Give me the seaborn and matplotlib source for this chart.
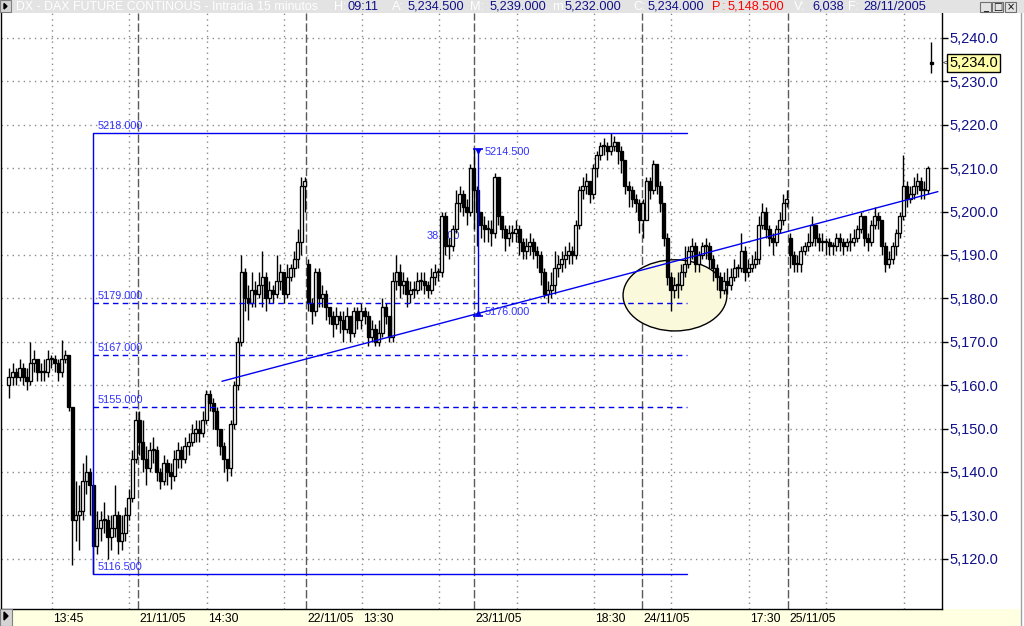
import numpy as np
import matplotlib
matplotlib.use('Agg')
import matplotlib.pyplot as plt
from matplotlib.patches import Ellipse, Rectangle, Polygon
import seaborn as sns

# ---- 15 minute bars, one set of lists per session ----
day_names = ['18/11/05', '21/11/05', '22/11/05', '23/11/05', '24/11/05', '25/11/05', '28/11/05']
first_open = [5160, 5152, 5188, 5205, 5198, 5194, 5234.5]

close_18 = [5162, 5163, 5162, 5164, 5162, 5161, 5165, 5166, 5163, 5163, 5163, 5166, 5166, 5165, 5163, 5166,
            5167, 5155, 5129, 5130, 5131, 5138, 5140, 5137, 5123, 5127, 5129, 5129, 5125, 5127, 5130, 5124,
            5126, 5130, 5134, 5143, 5152]
high_18 = [5164, 5165, 5164, 5166, 5165, 5164, 5170, 5168, 5166, 5165, 5166, 5168, 5167, 5167, 5166, 5170.5,
           5168, 5167, 5155, 5138, 5137, 5142, 5144, 5141, 5137, 5131, 5131, 5133, 5130, 5130, 5137, 5131,
           5130, 5132, 5136, 5145, 5154]
low_18 = [5157, 5160, 5160, 5161, 5160, 5159, 5160, 5163, 5161, 5161, 5161, 5162, 5164, 5163, 5161, 5162,
          5165, 5154, 5118.6, 5124, 5122, 5129, 5135, 5130, 5116.5, 5121, 5124, 5126, 5120, 5122, 5125, 5121,
          5122, 5124, 5129, 5133, 5142]

close_21 = [5147, 5143, 5141, 5145, 5145, 5140, 5138, 5142, 5140, 5139, 5143, 5145, 5143, 5146, 5147, 5149,
            5150, 5149, 5152, 5158, 5156, 5154, 5150, 5146, 5143, 5141, 5151, 5160, 5170, 5186, 5180, 5179,
            5182, 5181, 5183, 5185, 5180, 5182, 5181, 5184, 5186, 5181, 5185, 5187, 5189, 5193, 5206, 5207]
high_21 = [5154, 5152, 5146, 5147, 5148, 5146, 5141, 5144, 5143, 5142, 5145, 5147, 5146, 5148, 5149, 5151,
           5152, 5152, 5154, 5159, 5159, 5157, 5155, 5150, 5147, 5143, 5152, 5161, 5171, 5190, 5187, 5183,
           5186, 5184, 5186, 5191, 5186, 5184, 5183, 5190, 5188, 5186, 5188, 5188, 5191, 5196, 5208, 5208]
low_21 = [5144, 5140, 5137, 5140, 5142, 5138, 5136, 5137, 5137, 5136, 5138, 5141, 5141, 5142, 5144, 5146,
          5147, 5147, 5148, 5151, 5154, 5150, 5146, 5144, 5140, 5138, 5139, 5150, 5159, 5169, 5177, 5175,
          5178, 5178, 5180, 5178, 5177, 5179, 5179, 5180, 5182, 5179, 5180, 5184, 5185, 5187, 5190, 5200]

close_22 = [5179, 5177, 5186, 5180, 5181, 5178, 5176, 5174, 5176, 5175, 5173, 5176, 5172, 5177, 5175, 5177,
            5176, 5171, 5173, 5170, 5172, 5178, 5176, 5171, 5184, 5186, 5183, 5184, 5181, 5182, 5182, 5184,
            5184, 5183, 5182, 5185, 5186, 5186, 5199, 5192, 5192, 5196, 5202, 5204, 5201, 5200, 5210, 5205]
high_22 = [5189, 5180, 5187, 5187, 5183, 5182, 5178, 5177, 5178, 5177, 5177, 5178, 5176, 5178, 5178, 5179,
           5178, 5177, 5175, 5174, 5175, 5180, 5179, 5176, 5186, 5190, 5188, 5186, 5185, 5184, 5184, 5186,
           5186, 5186, 5184, 5187, 5188, 5187, 5200, 5200, 5194, 5197, 5205, 5206, 5205, 5203, 5211, 5214.5]
low_22 = [5177, 5174, 5176, 5178, 5178, 5175, 5174, 5171, 5173, 5172, 5170, 5172, 5170, 5171, 5173, 5173,
          5174, 5169, 5170, 5169, 5169, 5171, 5174, 5170, 5170, 5182, 5180, 5181, 5178, 5179, 5180, 5181,
          5182, 5181, 5180, 5181, 5183, 5184, 5185, 5190, 5189, 5191, 5195, 5200, 5199, 5197, 5199, 5196]

close_23 = [5200, 5197, 5196, 5196, 5195, 5208, 5199, 5196, 5194, 5195, 5195, 5196, 5193, 5191, 5192, 5193,
            5191, 5190, 5186, 5181, 5182, 5183, 5187, 5188, 5189, 5190, 5191, 5190, 5197, 5205, 5206, 5207,
            5204, 5210, 5213, 5215, 5215, 5214, 5215, 5216, 5214, 5212, 5206, 5205, 5203, 5202, 5198, 5202]
high_23 = [5206, 5200, 5199, 5198, 5198, 5209, 5208, 5199, 5197, 5197, 5197, 5198, 5197, 5194, 5194, 5195,
           5194, 5192, 5191, 5187, 5184, 5186, 5191, 5190, 5191, 5192, 5193, 5192, 5198, 5206, 5208, 5209,
           5207, 5211, 5214, 5216, 5217, 5216, 5218, 5217.5, 5216, 5215, 5212, 5207, 5206, 5204, 5203, 5203]
low_23 = [5192, 5194, 5193, 5193, 5192, 5194, 5197, 5194, 5191, 5192, 5193, 5193, 5190, 5189, 5189, 5190,
          5189, 5187, 5183, 5180, 5179, 5180, 5181, 5185, 5186, 5187, 5188, 5188, 5189, 5196, 5203, 5204,
          5202, 5203, 5208, 5212, 5213, 5212, 5213, 5214, 5211, 5209, 5204, 5201, 5201, 5200, 5195, 5194]

close_24 = [5207, 5205, 5211, 5206, 5202, 5194, 5185, 5182, 5183, 5183, 5186, 5188, 5191, 5192, 5188, 5190,
            5192, 5192, 5189, 5187, 5185, 5182, 5184, 5183, 5185, 5187, 5187, 5191, 5186, 5187, 5188, 5189,
            5197, 5200, 5196, 5194, 5193, 5196, 5198, 5202, 5203]
high_24 = [5208, 5208, 5212, 5211, 5207, 5202, 5195, 5186, 5185, 5186, 5188, 5192, 5192, 5194, 5193, 5191,
           5193, 5194, 5193, 5190, 5188, 5186, 5186, 5187, 5187, 5189, 5188, 5195, 5192, 5189, 5190, 5191,
           5199, 5202, 5201, 5197, 5195, 5197, 5200, 5204, 5205]
low_24 = [5201, 5203, 5204, 5204, 5200, 5192, 5183, 5177, 5180, 5180, 5182, 5185, 5187, 5189, 5186, 5186,
          5189, 5189, 5187, 5184, 5182, 5180, 5181, 5181, 5182, 5184, 5185, 5186, 5184, 5185, 5186, 5187,
          5188, 5196, 5194, 5192, 5190, 5192, 5195, 5197, 5201]

close_25 = [5190, 5188, 5188, 5191, 5192, 5193, 5197, 5194, 5193, 5193, 5193, 5192, 5192, 5194, 5193, 5192,
            5193, 5193, 5194, 5196, 5199, 5194, 5193, 5197, 5199, 5198, 5192, 5188, 5189, 5192, 5195, 5199,
            5206, 5203, 5204, 5206, 5207, 5205, 5205, 5210]
high_25 = [5195, 5191, 5190, 5192, 5193, 5195, 5199, 5197, 5195, 5195, 5194, 5194, 5193, 5195, 5195, 5194,
           5194, 5195, 5196, 5197, 5200, 5199, 5195, 5198, 5201, 5200, 5198, 5193, 5191, 5193, 5196, 5200,
           5213, 5207, 5206, 5208, 5209, 5208, 5207, 5210.5]
low_25 = [5187, 5186, 5186, 5186, 5190, 5191, 5192, 5192, 5191, 5191, 5190, 5190, 5190, 5191, 5191, 5190,
          5191, 5191, 5192, 5193, 5195, 5192, 5191, 5192, 5196, 5196, 5190, 5186, 5187, 5188, 5190, 5194,
          5198, 5201, 5202, 5203, 5204, 5203, 5203, 5204]

close_28 = [5234]
high_28 = [5239]
low_28 = [5232]

# axis labels / drawn objects
price_ticks = [5120, 5130, 5140, 5150, 5160, 5170, 5180, 5190, 5200, 5210, 5220, 5230, 5240]
grid_x = [12.2, 34.2, 56.2, 78.2, 100.2, 122.2, 144.2, 166.2, 188.2, 210.2, 232.2, 254.2]
day_sep_x = [36.6, 84.4, 132.1, 179.8, 221.3]
time_labels = ['13:45', '14:30', '13:30', '18:30', '17:30']
time_label_x = [12.2, 56.2, 100.2, 166.2, 210.2]
date_labels = ['21/11/05', '22/11/05', '23/11/05', '24/11/05', '25/11/05']

box_x = [23.9, 192.6]
box_top, box_bottom = 5218.0, 5116.5
fib_levels = [5179.0, 5167.0, 5155.0]
measure_x = 133.1
measure_top, measure_bottom = 5214.5, 5176.0
measure_pct = '38.500'
trend_x = [60.5, 263.9]
trend_y = [5160.9, 5204.6]
circle_center = (189.2, 5180.7)
circle_size = (29.5, 16.4)
last_price = 5234.0

# ---- assemble OHLC ----
close_days = [close_18, close_21, close_22, close_23, close_24, close_25, close_28]
high_days = [high_18, high_21, high_22, high_23, high_24, high_25, high_28]
low_days = [low_18, low_21, low_22, low_23, low_24, low_25, low_28]

opens, closes, highs, lows = [], [], [], []
for fo, c, h, l in zip(first_open, close_days, high_days, low_days):
    opens += [fo] + c[:-1]
    closes += c
    highs += h
    lows += l
opens = np.array(opens, float)
closes = np.array(closes, float)
highs = np.maximum(np.array(highs, float), np.maximum(opens, closes))
lows = np.minimum(np.array(lows, float), np.minimum(opens, closes))
idx = np.arange(len(closes))

# ---- figure ----
sns.set_theme(style='white')
plt.rcParams['font.family'] = ['Liberation Sans', 'DejaVu Sans']

W, H = 1024, 626
fig = plt.figure(figsize=(W / 100, H / 100), dpi=100)
fig.patch.set_facecolor('white')


def fx(px):
    return px / W


def fy(py):
    return 1 - py / H


BLUE = '#0000ee'
NAVY = '#10108a'

# bottom date strip
bax = fig.add_axes([0, 0, fx(1020), 17 / H], zorder=-1)
bax.set_facecolor('#ffffe1')
bax.set_xticks([]); bax.set_yticks([])
for s in bax.spines.values():
    s.set_visible(False)

# main price panel
ax = fig.add_axes([fx(1), 17 / H, fx(941), 596 / H], zorder=2)
ax.set_facecolor('white')
xlim = (-2.27, 265.06)
ylim = (5108.43, 5245.76)
ax.set_xlim(*xlim)
ax.set_ylim(*ylim)

# grid
ax.hlines(price_ticks, *xlim, colors='#8a8a8a', linestyles=(0, (1, 3)), lw=1, zorder=1)
ax.vlines(grid_x, *ylim, colors='#8a8a8a', linestyles=(0, (1, 3)), lw=1, zorder=1)
ax.vlines(day_sep_x, *ylim, colors='#5a5a5a', linestyles=(0, (6, 2)), lw=1, zorder=1)

# highlighted zone
ax.add_patch(Ellipse(circle_center, circle_size[0], circle_size[1], fc='#fbf9dc', ec='black', lw=1, zorder=1.5))

# % label sits under the candles
ax.text(118.75, 5194.4, measure_pct, color='#3030ff', fontsize=7.8, va='center', ha='left', zorder=2)

# candles
body_lo = np.minimum(opens, closes)
body_h = np.maximum(np.abs(closes - opens), 0.25)
up = closes >= opens
ax.vlines(idx, lows, highs, colors='black', lw=1, zorder=3)
ax.bar(idx[up], body_h[up], bottom=body_lo[up], width=0.85, color='white', edgecolor='black', lw=0.95, zorder=3.5)
ax.bar(idx[~up], body_h[~up], bottom=body_lo[~up], width=0.85, color='black', edgecolor='black', lw=0.95, zorder=3.5)

# drawing objects
ax.plot([box_x[1], box_x[0], box_x[0], box_x[1]], [box_top, box_top, box_bottom, box_bottom], color=BLUE, lw=1, zorder=4)
ax.hlines(fib_levels, box_x[0], box_x[1], colors=BLUE, linestyles=(0, (4, 3)), lw=1, zorder=4)
for lev in [box_top] + fib_levels + [box_bottom]:
    ax.annotate(f'{lev:.3f}', xy=(box_x[0], lev), xytext=(4, 4), textcoords='offset pixels',
                color='#3030ff', fontsize=7.8, va='baseline', ha='left', zorder=5)

sns.lineplot(x=trend_x, y=trend_y, ax=ax, color=BLUE, lw=1, zorder=4)

ax.vlines(measure_x, measure_bottom, measure_top, colors=BLUE, lw=1, zorder=4)
ax.plot([measure_x], [measure_top], marker='_', ms=7, mew=1.2, color=BLUE, zorder=4)
ax.plot([measure_x], [measure_top - 0.6], marker='v', ms=3, color=BLUE, zorder=4)
ax.plot([measure_x], [measure_bottom], marker='_', ms=7, mew=1.2, color=BLUE, zorder=4)
ax.plot([measure_x], [measure_bottom + 0.6], marker='^', ms=3, color=BLUE, zorder=4)
ax.text(135.2, 5213.7, f'{measure_top:.3f}', color='#3030ff', fontsize=7.8, va='center', zorder=5)
ax.text(135.2, 5176.9, f'{measure_bottom:.3f}', color='#3030ff', fontsize=7.8, va='center', zorder=5)

# axes frame and ticks
ax.yaxis.tick_right()
ax.set_yticks(price_ticks)
ax.set_yticklabels([f'{v:,.1f}' for v in price_ticks])
ax.tick_params(axis='y', which='both', direction='out', length=4, width=1, pad=1.5,
               colors='black', labelcolor=NAVY, labelsize=10.5, right=True, left=False)
ax.set_xticks(grid_x)
ax.set_xticks(day_sep_x, minor=True)
ax.tick_params(axis='x', which='major', direction='out', length=5, width=1, labelbottom=False, colors='black')
ax.tick_params(axis='x', which='minor', direction='out', length=8, width=1, labelbottom=False, colors='black')
ax.set_xlabel(''); ax.set_ylabel('')
for side in ['left', 'right', 'bottom']:
    ax.spines[side].set_visible(True)
    ax.spines[side].set_color('black')
    ax.spines[side].set_linewidth(1)
ax.spines['top'].set_visible(False)

for pos, lab in zip(time_label_x + day_sep_x, time_labels + date_labels):
    ax.annotate(lab, xy=(pos, 0), xycoords=('data', 'axes fraction'), xytext=(1.5, -10),
                textcoords='offset pixels', ha='left', va='center', fontsize=8.7,
                color='black', annotation_clip=False)

# last price flag
fig.text(fx(949), fy(63), f'{last_price:,.1f}', fontsize=10.5, color='black', va='center', ha='left',
         bbox=dict(boxstyle='square,pad=0.12', fc='#ffffa8', ec='black', lw=1), zorder=6)
fig.text(fx(943), fy(63.5), '<', fontsize=6, color='black', va='center', ha='left', zorder=6)

# header bar
hax = fig.add_axes([0, fy(13), 1, 13 / H], zorder=3)
hax.set_facecolor('#e3e3e3')
hax.set_xticks([]); hax.set_yticks([])
for s in hax.spines.values():
    s.set_visible(False)

fig.text(fx(16), fy(6.5), 'DX - DAX FUTURE CONTINOUS - Intradia 15 minutos', color='white',
         fontsize=8.9, va='center', ha='left', zorder=7)
header_parts = [(334, 'H:', 'white'),
                (348, '09:11', NAVY), (392, 'A:', 'white'), (408, '5,234.500', NAVY),
                (470, 'M:', 'white'), (490, '5,239.000', NAVY), (552, 'm:', 'white'),
                (565, '5,232.000', NAVY), (633, 'C:', 'white'), (648, '5,234.000', NAVY),
                (712, 'P', '#ff0000'), (722, ':', '#ff8000'), (728, '5,148.500', '#ff0000'),
                (794, 'V:', 'white'), (812, '6,038', NAVY), (848, 'F:', 'white'), (863, '28/11/2005', NAVY)]
for px, txt, col in header_parts:
    fig.text(fx(px), fy(6.5), txt, color=col, fontsize=9.2, va='center', ha='left', zorder=7)

# little window widgets
fig.patches.append(Rectangle((0, fy(12)), fx(11), 12 / H, transform=fig.transFigure,
                             fc='#d4d4d4', ec='#808080', lw=0.8, zorder=8))
fig.patches.append(Polygon([[fx(4), fy(3.5)], [fx(4), fy(9)], [fx(7), fy(6.3)]], closed=True,
                           transform=fig.transFigure, fc='black', ec='black', zorder=9))
fig.patches.append(Rectangle((0, 0), fx(12), 17 / H, transform=fig.transFigure,
                             fc='#d4d4d4', ec='#808080', lw=0.8, zorder=8))
fig.patches.append(Polygon([[fx(4), fy(612)], [fx(4), fy(620)], [fx(8), fy(616)]], closed=True,
                           transform=fig.transFigure, fc='black', ec='black', zorder=9))
for bx, glyph in [(980, '_'), (992, '□'), (1005, '×')]:
    fig.patches.append(Rectangle((fx(bx), fy(12)), fx(11), 10 / H, transform=fig.transFigure,
                                 fc='#e3e3e3', ec='#707070', lw=0.8, zorder=8))
    fig.text(fx(bx + 5.5), fy(7), glyph, fontsize=7, color='black', ha='center', va='center',
             family=['DejaVu Sans'], zorder=9)
fig.add_artist(plt.Line2D([fx(1021), fx(1021)], [0, 1], color='#a0a0a0', lw=1, transform=fig.transFigure))

fig.savefig('out.png', dpi=100, facecolor='white')
